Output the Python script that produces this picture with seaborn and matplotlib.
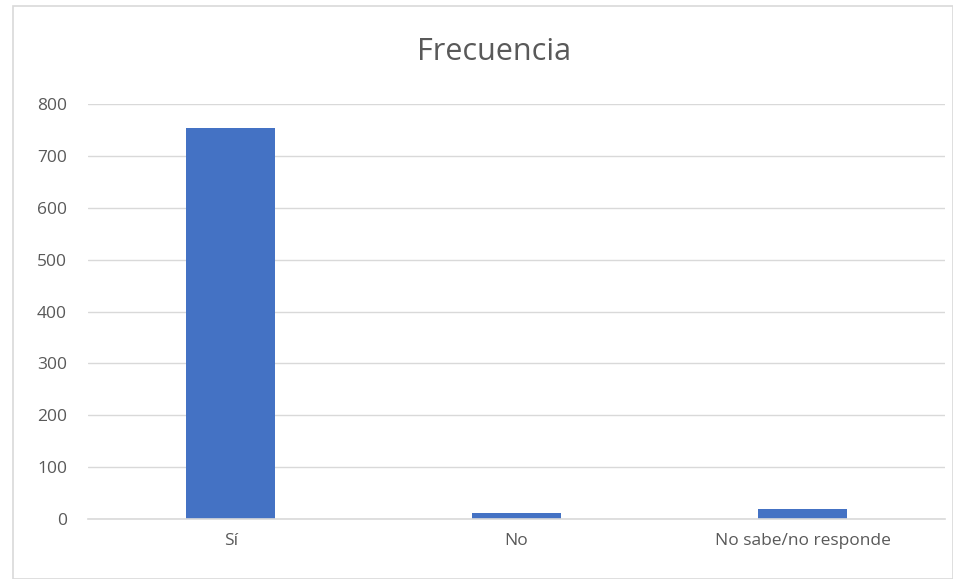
import matplotlib
matplotlib.use("Agg")
import matplotlib.pyplot as plt
import seaborn as sns
import pandas as pd
from matplotlib.patches import Rectangle

categorias = ["Sí", "No", "No sabe/no responde"]
frecuencia = [753, 11, 19]
yticks = [0, 100, 200, 300, 400, 500, 600, 700, 800]

df = pd.DataFrame({"categoria": categorias, "frecuencia": frecuencia})

sns.set_theme(style="white")
plt.rcParams["font.family"] = ["Open Sans", "DejaVu Sans"]

fig = plt.figure(figsize=(9.54, 5.79), dpi=100)
ax = fig.add_axes([0.092, 0.1036, 0.899, 0.7167])

sns.barplot(data=df, x="categoria", y="frecuencia", color="#4472C4",
            saturation=1, width=0.31, linewidth=0, ax=ax)

ax.set_ylim(0, 800)
ax.set_yticks(yticks)
ax.yaxis.grid(True, color="#D9D9D9", linewidth=1)
ax.set_axisbelow(True)
for s in ["top", "right", "left"]:
    ax.spines[s].set_visible(False)
ax.spines["bottom"].set_color("#D9D9D9")
ax.spines["bottom"].set_linewidth(1.2)
ax.tick_params(axis="x", length=0, labelsize=12.5, colors="#595959", pad=10)
ax.tick_params(axis="y", length=0, labelsize=12.5, colors="#595959", pad=15)
ax.set_xlabel("")
ax.set_ylabel("")

fig.text(0.518, 0.91, "Frecuencia", ha="center", va="center",
         fontsize=22, color="#595959")

fig.patches.append(Rectangle((0.014, 0.0), 0.985, 0.99, transform=fig.transFigure,
                             fill=False, edgecolor="#D9D9D9", linewidth=1.2))

fig.savefig("out.png", dpi=100)
